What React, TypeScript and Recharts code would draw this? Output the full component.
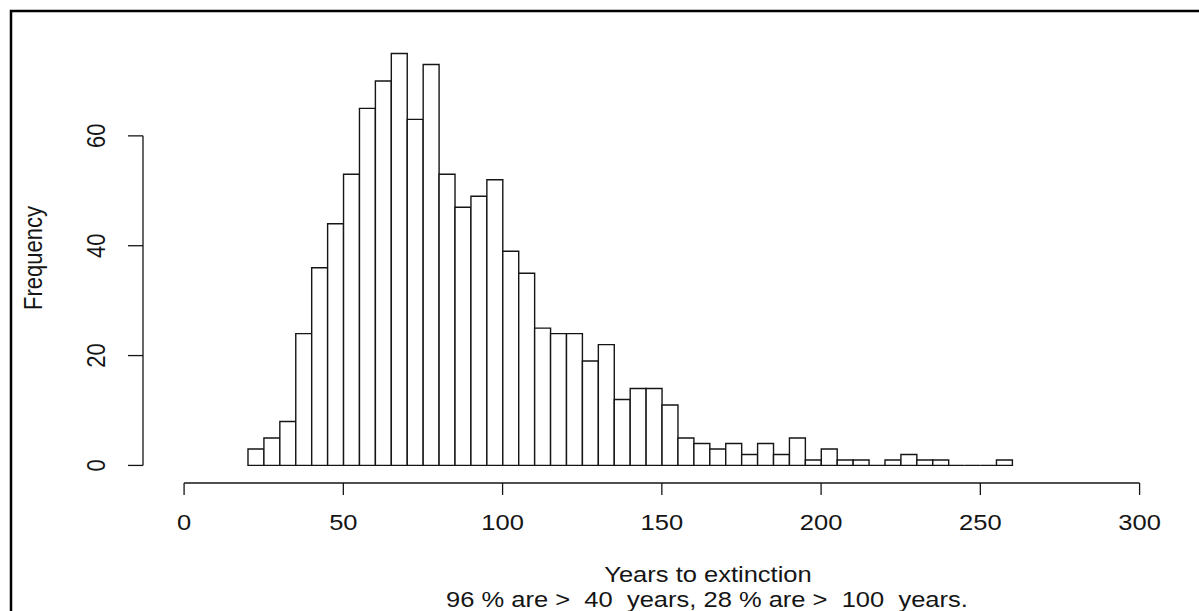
import React from 'react';
import { BarChart, Bar, XAxis, YAxis, ReferenceLine } from 'recharts';

// histogram breaks (years) and counts per bin
const breaks = [
  20, 25, 30, 35, 40, 45, 50, 55, 60, 65, 70, 75, 80, 85, 90, 95, 100, 105, 110, 115, 120, 125, 130, 135,
  140, 145, 150, 155, 160, 165, 170, 175, 180, 185, 190, 195, 200, 205, 210, 215, 220, 225, 230, 235, 240,
  245, 250, 255, 260,
];
const counts = [
  3, 5, 8, 24, 36, 44, 53, 65, 70, 75, 63, 73, 53, 47, 49, 52, 39, 35, 25, 24, 24, 19, 22, 12,
  14, 14, 11, 5, 4, 3, 4, 2, 4, 2, 5, 1, 3, 1, 1, 0, 1, 2, 1, 1, 0, 0, 0, 1,
];
const xTicks = [0, 50, 100, 150, 200, 250, 300];
const yTicks = [0, 20, 40, 60];

const xLabel = 'Years to extinction';
const subLabel = '96 % are >  40  years, 28 % are >  100  years.';
const yLabel = 'Frequency';

const data = counts.map((count, i) => ({
  mid: (breaks[i] + breaks[i + 1]) / 2,
  span: breaks[i + 1] - breaks[i],
  count,
}));

const W = 1199;
const H = 611;
const MARGIN = { top: 37, right: 18, left: 0, bottom: 68 };
const Y_AXIS_W = 143;
const X_DOMAIN: [number, number] = [-12.9, 313];
const Y_DOMAIN: [number, number] = [-3.2, 78];
const PX_PER_YEAR = (W - MARGIN.left - MARGIN.right - Y_AXIS_W) / (X_DOMAIN[1] - X_DOMAIN[0]);
const FONT = '"Liberation Sans", Arial, Helvetica, sans-serif';
const FS = 22;
const SX = 1.16; // the source image is stretched sideways
const INK = '#151515';

function XTick(props: any) {
  const { x, y, payload } = props;
  return (
    <text
      transform={`translate(${x},${y + 35}) scale(${SX},1)`}
      textAnchor="middle"
      fontSize={FS}
      fontFamily={FONT}
      fill={INK}
    >
      {payload.value}
    </text>
  );
}

function YTick(props: any) {
  const { x, y, payload } = props;
  return (
    <text
      transform={`translate(${x - 23},${y}) scale(${SX},1) rotate(-90)`}
      textAnchor="middle"
      fontSize={FS}
      fontFamily={FONT}
      fill={INK}
    >
      {payload.value}
    </text>
  );
}

// recharts truncates bar widths to whole pixels, so stretch each bar back
// to its full bin around the centre the library gave it
function HistBar(props: any) {
  const { x, y, width, height, payload } = props;
  if (x == null || width == null) return null;
  const h = height || 0;
  const cx = x + width / 2;
  const half = (payload.span * PX_PER_YEAR) / 2;
  return (
    <path
      d={`M${cx - half},${y + h} V${y} H${cx + half} V${y + h} Z`}
      fill="#fff"
      stroke={INK}
      strokeWidth={1.4}
    />
  );
}

export default function App() {
  return (
    <div style={{ position: 'absolute', left: 0, top: 0, width: W, height: H, background: '#fff' }}>
      <BarChart width={W} height={H} data={data} margin={MARGIN}>
        <XAxis
          dataKey="mid"
          type="number"
          domain={X_DOMAIN}
          allowDataOverflow
          ticks={xTicks}
          interval={0}
          height={60}
          tickSize={12}
          tickMargin={0}
          axisLine={false}
          tickLine={{ stroke: INK, strokeWidth: 1.3 }}
          tick={<XTick />}
        />
        <YAxis
          type="number"
          domain={Y_DOMAIN}
          allowDataOverflow
          ticks={yTicks}
          interval={0}
          width={Y_AXIS_W}
          tickSize={15}
          tickMargin={0}
          axisLine={false}
          tickLine={{ stroke: INK, strokeWidth: 1.3 }}
          tick={<YTick />}
        />
        <Bar
          dataKey="count"
          barSize="100%"
          shape={<HistBar />}
          isAnimationActive={false}
        />
        <ReferenceLine
          segment={[{ x: xTicks[0], y: Y_DOMAIN[0] }, { x: xTicks[xTicks.length - 1], y: Y_DOMAIN[0] }]}
          stroke={INK}
          strokeWidth={1.3}
          ifOverflow="visible"
        />
        <ReferenceLine
          segment={[{ x: X_DOMAIN[0], y: yTicks[0] }, { x: X_DOMAIN[0], y: yTicks[yTicks.length - 1] }]}
          stroke={INK}
          strokeWidth={1.3}
          ifOverflow="visible"
        />
      </BarChart>
      <svg
        width={W}
        height={H}
        style={{ position: 'absolute', left: 0, top: 0, pointerEvents: 'none' }}
      >
        <path d={`M11,${H} V11 H${W}`} fill="none" stroke="#000" strokeWidth={2.5} />
        <text
          transform={`translate(708,582) scale(${SX},1)`}
          textAnchor="middle"
          fontSize={FS}
          fontFamily={FONT}
          fill={INK}
        >
          {xLabel}
        </text>
        <text
          transform={`translate(707,607) scale(${SX},1)`}
          textAnchor="middle"
          fontSize={FS}
          fontFamily={FONT}
          fill={INK}
          style={{ whiteSpace: 'pre' }}
        >
          {subLabel}
        </text>
        <text
          transform={`translate(42,258) scale(${SX},1) rotate(-90)`}
          textAnchor="middle"
          fontSize={FS}
          fontFamily={FONT}
          fill={INK}
        >
          {yLabel}
        </text>
      </svg>
    </div>
  );
}
